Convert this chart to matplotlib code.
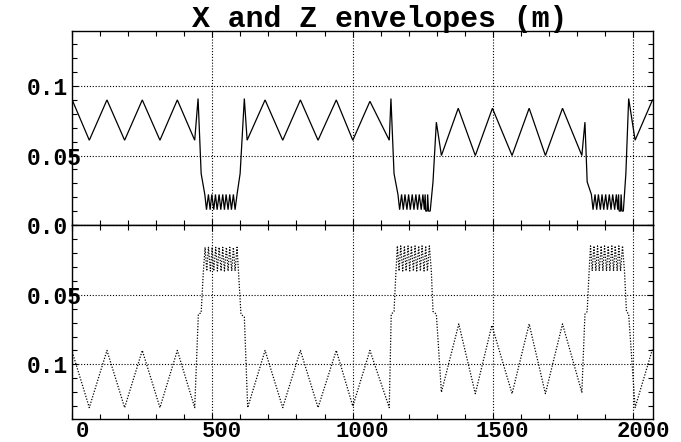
import matplotlib
matplotlib.use("Agg")
import matplotlib.pyplot as plt
import matplotlib.transforms as mtransforms
from matplotlib.ticker import MultipleLocator

# ---------------- data ----------------
# horizontal envelope X (m) vs s (m)
x_s = [0, 61, 124, 187, 250, 313, 375, 437, 449, 460,
       473, 479, 486, 492, 498, 505, 511, 517, 524, 530, 537, 543, 549, 556, 562, 568, 575, 581, 588,
       599, 614, 624, 688, 751, 814, 877, 942, 1001, 1062, 1131, 1137, 1148,
       1162, 1168, 1175, 1181, 1187, 1194, 1200, 1206, 1213, 1219, 1226, 1232, 1238, 1245, 1251, 1256,
       1259, 1261, 1266, 1268, 1271, 1277,
       1287, 1299, 1317, 1377, 1438, 1499, 1569, 1630, 1688, 1749, 1818, 1829, 1837,
       1852, 1858, 1865, 1871, 1877, 1884, 1890, 1896, 1903, 1909, 1916, 1922, 1928, 1935, 1941, 1946,
       1949, 1951, 1956, 1958, 1961, 1966,
       1975, 1985, 2008, 2070]
x_env = [0.090, 0.061, 0.090, 0.061, 0.090, 0.061, 0.090, 0.061, 0.091, 0.037,
         0.022, 0.011, 0.022, 0.011, 0.022, 0.011, 0.022, 0.011, 0.022, 0.011, 0.022, 0.011, 0.022, 0.011, 0.022, 0.011, 0.022, 0.011, 0.022,
         0.037, 0.091, 0.061, 0.090, 0.061, 0.090, 0.061, 0.090, 0.061, 0.089, 0.061, 0.091, 0.037,
         0.022, 0.011, 0.022, 0.011, 0.022, 0.011, 0.022, 0.011, 0.022, 0.011, 0.022, 0.011, 0.022, 0.011, 0.022, 0.011,
         0.022, 0.010, 0.010, 0.022, 0.010, 0.010,
         0.031, 0.074, 0.050, 0.084, 0.050, 0.084, 0.050, 0.084, 0.050, 0.084, 0.050, 0.074, 0.031,
         0.022, 0.011, 0.022, 0.011, 0.022, 0.011, 0.022, 0.011, 0.022, 0.011, 0.022, 0.011, 0.022, 0.011, 0.022, 0.011,
         0.022, 0.010, 0.010, 0.022, 0.010, 0.010,
         0.037, 0.091, 0.061, 0.090]

# vertical envelope Z (m) vs s (m)
z_s = [0, 61, 124, 187, 250, 313, 375, 437, 450, 460, 468,
       474, 480, 486, 493, 499, 505, 512, 518, 524, 531, 537, 543, 550, 556, 562, 569, 575, 581, 588, 593,
       602, 614, 626, 688, 751, 814, 877, 942, 1001, 1062, 1131, 1138, 1148, 1155,
       1160, 1166, 1172, 1179, 1185, 1191, 1198, 1204, 1210, 1217, 1223, 1229, 1236, 1242, 1248, 1255, 1261, 1267, 1274, 1281,
       1287, 1299, 1317, 1379, 1438, 1497, 1569, 1630, 1688, 1749, 1818, 1829, 1837, 1844,
       1849, 1855, 1861, 1868, 1874, 1880, 1887, 1893, 1899, 1906, 1912, 1918, 1925, 1931, 1937, 1944, 1950, 1956, 1963, 1970,
       1977, 1985, 2008, 2070]
z_env = [0.091, 0.131, 0.090, 0.131, 0.090, 0.131, 0.090, 0.131, 0.064, 0.063, 0.033,
         0.016, 0.033, 0.016, 0.033, 0.016, 0.033, 0.016, 0.033, 0.016, 0.033, 0.016, 0.033, 0.016, 0.033, 0.016, 0.033, 0.016, 0.033, 0.016, 0.033,
         0.064, 0.066, 0.131, 0.090, 0.131, 0.090, 0.131, 0.090, 0.130, 0.090, 0.131, 0.064, 0.062, 0.033,
         0.015, 0.033, 0.015, 0.033, 0.015, 0.033, 0.015, 0.033, 0.015, 0.033, 0.015, 0.033, 0.015, 0.033, 0.015, 0.033, 0.015, 0.033, 0.015, 0.033,
         0.062, 0.064, 0.120, 0.071, 0.121, 0.072, 0.121, 0.071, 0.121, 0.071, 0.120, 0.064, 0.062, 0.033,
         0.015, 0.033, 0.015, 0.033, 0.015, 0.033, 0.015, 0.033, 0.015, 0.033, 0.015, 0.033, 0.015, 0.033, 0.015, 0.033, 0.015, 0.033, 0.015, 0.033,
         0.062, 0.064, 0.131, 0.089]

x_ticks = [0, 500, 1000, 1500, 2000]
x_ticklabels = ["0", "500", "1000", "1500", "2000"]
top_yticks = [0.0, 0.05, 0.1]
top_yticklabels = ["0.0", "0.05", "0.1"]
bot_yticks = [0.0, 0.05, 0.1]
bot_yticklabels = ["", "0.05", "0.1"]
title = "X and Z envelopes (m)"

# ---------------- figure ----------------
FONT = "Liberation Mono"
plt.rcParams["font.family"] = [FONT, "DejaVu Sans Mono"]
plt.rcParams["font.weight"] = "bold"

W, H = 681, 442
fig = plt.figure(figsize=(W / 100, H / 100), dpi=100)
fig.patch.set_facecolor("white")

left = 72.2 / W
right = 652.5 / W
ymid = 1 - 225 / H
ytop = 1 - 31 / H
ybot = 1 - 419.3 / H

ax1 = fig.add_axes([left, ymid, right - left, ytop - ymid])
ax2 = fig.add_axes([left, ybot, right - left, ymid - ybot])

grid_kw = dict(color="black", linewidth=0.8, linestyle=(0, (1, 1.6)))

for ax in (ax1, ax2):
    ax.set_xlim(0, 2070)
    ax.set_xticks(x_ticks)
    ax.xaxis.set_minor_locator(MultipleLocator(100))
    ax.yaxis.set_minor_locator(MultipleLocator(0.01))
    ax.tick_params(which="both", direction="in", top=True, right=True,
                   bottom=True, left=True, color="black", width=0.8)
    ax.tick_params(which="major", length=4)
    ax.tick_params(which="minor", length=3.5)
    ax.tick_params(axis="y", which="major", pad=33, labelsize=16.5)
    ax.tick_params(axis="x", which="major", pad=1.5, labelsize=16)
    for sp in ax.spines.values():
        sp.set_linewidth(1.0)
        sp.set_color("black")
    ax.grid(True, which="major", **grid_kw)
    ax.set_axisbelow(True)

ax1.set_ylim(0, 0.1396)
ax1.set_yticks(top_yticks)
ax1.set_yticklabels(top_yticklabels, fontweight="bold")
ax1.set_xticklabels([])

ax2.set_ylim(0.1394, 0)
ax2.set_yticks(bot_yticks)
ax2.set_yticklabels(bot_yticklabels, fontweight="bold")
ax2.set_xticklabels(x_ticklabels, fontweight="bold")

for ax in (ax1, ax2):
    for lab in ax.get_yticklabels():
        lab.set_horizontalalignment("left")

offset = mtransforms.ScaledTranslation(10 / 100, 0, fig.dpi_scale_trans)
for lab in ax2.get_xticklabels():
    lab.set_transform(lab.get_transform() + offset)

ax1.plot(x_s, x_env, color="black", linewidth=0.9, solid_joinstyle="miter")
ax2.plot(z_s, z_env, color="black", linewidth=0.9, linestyle=(0, (1, 1.3)))

fig.text(380 / W, 1 - 27.3 / H, title, ha="center", va="baseline",
         fontsize=21.5, fontweight="bold", family=[FONT, "DejaVu Sans Mono"])

fig.savefig("out.png", dpi=100)
